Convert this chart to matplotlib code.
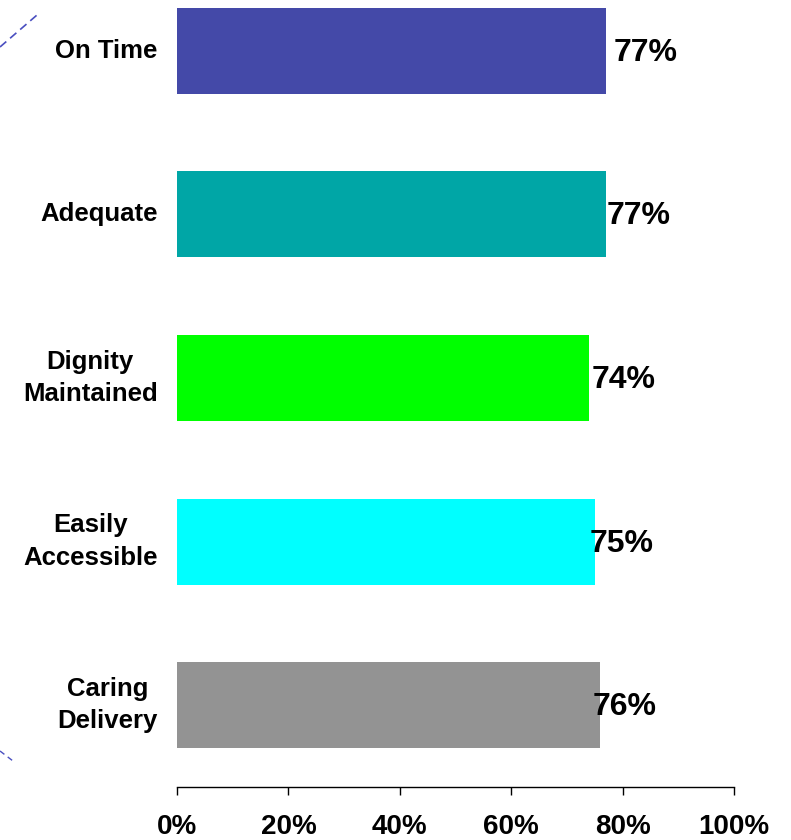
import matplotlib
matplotlib.use("Agg")
import matplotlib.pyplot as plt
from matplotlib.lines import Line2D

plt.rcParams['font.family'] = ['Liberation Sans', 'DejaVu Sans']

categories = ["On Time", "Adequate", "Dignity\nMaintained", "Easily\nAccessible", "Caring\nDelivery"]
values = [77, 77, 74, 75, 76]
colors = ["#4449A8", "#00A6A6", "#00FF00", "#00FFFF", "#939393"]
tick_values = [0, 20, 40, 60, 80, 100]
tick_labels = ["0%", "20%", "40%", "60%", "80%", "100%"]

W, H = 791, 840
fig = plt.figure(figsize=(W / 100, H / 100), dpi=100)
ax = fig.add_axes([177 / W, 1 - 787 / H, (734 - 177) / W, 818 / H])

y = list(range(len(categories)))
ax.barh(y, values, height=0.526, color=colors, left=0)
ax.set_xlim(0, 100)
ax.set_ylim(len(categories) - 0.5, -0.5)

# value labels just past each bar end
label_shift = [1.3, 0.2, 0.5, -0.9, -1.3]
for i, v in enumerate(values):
    ax.text(v + label_shift[i], i + 0.012, f"{v}%", ha="left", va="center",
            fontsize=23, fontweight="bold", color="black")

ax.set_xticks(tick_values)
ax.set_xticklabels(tick_labels, fontsize=20, fontweight="bold")
ax.tick_params(axis="x", direction="out", length=5.8, width=1.0, pad=14, color="black")
ax.set_yticks(y)
ax.set_yticklabels(categories, fontsize=18.5, fontweight="bold",
                   multialignment="center", linespacing=1.45, va="center")
ax.tick_params(axis="y", length=0, pad=14)

for side in ("top", "right", "left"):
    ax.spines[side].set_visible(False)
ax.spines["bottom"].set_linewidth(1.0)

# decorative dashed strokes at the left edge
fig.add_artist(Line2D([0 / W, 37 / W], [1 - 47 / H, 1 - 15 / H], transform=fig.transFigure,
                      color="#4A4FC0", lw=1.2, ls=(0, (5, 3))))
fig.add_artist(Line2D([0 / W, 13 / W], [1 - 751 / H, 1 - 761 / H], transform=fig.transFigure,
                      color="#4A4FC0", lw=1.0, ls=(0, (4, 3))))

fig.savefig("out.png", dpi=100)
